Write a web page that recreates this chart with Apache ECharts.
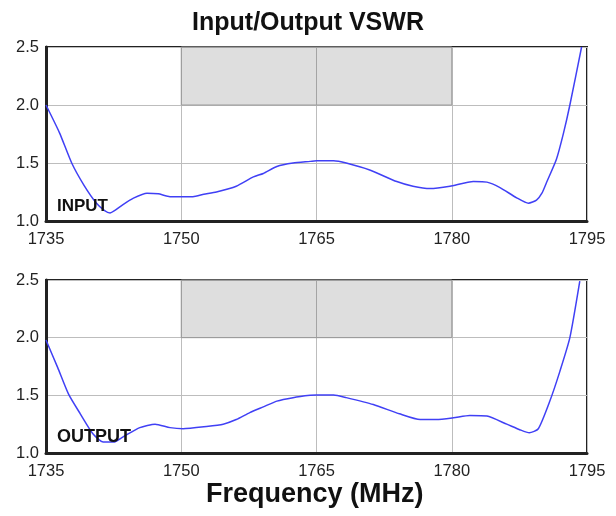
<!DOCTYPE html>
<html>
<head>
<meta charset="utf-8">
<script src="https://cdn.jsdelivr.net/npm/echarts@6/dist/echarts.min.js"></script>
<style>
html,body{margin:0;padding:0;background:#fff;}
#c{width:616px;height:516px;}
</style>
</head>
<body>
<div id="c"></div>
<script>
const titleText = 'Input/Output VSWR';
const xAxisTitle = 'Frequency (MHz)';
const xTicks = [1735, 1750, 1765, 1780, 1795];
const yTicks = [1.0, 1.5, 2.0, 2.5];
const specBand = { fromFreq: 1750, toFreq: 1780, fromVswr: 2.0, toVswr: 2.5 };

const inputFreq = [1735, 1736.5, 1737.85, 1739.2, 1740.6, 1741.5, 1742.1, 1742.6, 1743.5, 1744.7, 1746.2, 1747.45, 1748.75, 1750, 1751.3, 1752.5, 1753.9, 1756.1, 1758, 1759.1, 1760.6, 1762.4, 1764.3, 1765, 1766.9, 1768.3, 1770.9, 1773.9, 1775.7, 1777.6, 1779.8, 1782.4, 1783.9, 1785.3, 1787.2, 1788.5, 1789.4, 1790, 1790.5, 1791.6, 1792.4, 1793.1, 1794.4];
const inputVswr = [2.0, 1.76, 1.50, 1.31, 1.153, 1.09, 1.07, 1.09, 1.14, 1.197, 1.24, 1.234, 1.21, 1.21, 1.21, 1.23, 1.25, 1.30, 1.38, 1.41, 1.47, 1.50, 1.514, 1.52, 1.52, 1.50, 1.44, 1.34, 1.30, 1.28, 1.30, 1.34, 1.335, 1.29, 1.20, 1.153, 1.18, 1.24, 1.33, 1.53, 1.76, 2.0, 2.5];

const outputFreq = [1735, 1736.3, 1737.5, 1738.8, 1740.2, 1741.35, 1742.5, 1743.55, 1745.4, 1747.1, 1748.75, 1750.2, 1752.8, 1754.65, 1756.1, 1757.6, 1759.1, 1760.6, 1762.4, 1764.3, 1765, 1766.9, 1768.3, 1771.3, 1774.2, 1776.5, 1778.3, 1780.2, 1782, 1783.9, 1786.1, 1787.6, 1788.6, 1789.6, 1790.9, 1792, 1793.1, 1794.2];
const outputVswr = [1.98, 1.74, 1.51, 1.34, 1.167, 1.095, 1.095, 1.14, 1.22, 1.25, 1.22, 1.21, 1.23, 1.25, 1.29, 1.35, 1.40, 1.45, 1.48, 1.50, 1.503, 1.503, 1.48, 1.42, 1.34, 1.29, 1.29, 1.305, 1.325, 1.32, 1.25, 1.20, 1.175, 1.21, 1.455, 1.71, 2.0, 2.49];

const panelLabels = ['INPUT', 'OUTPUT'];

const pairs = (xs, ys) => xs.map((x, i) => [x, ys[i]]);
const font = 'Liberation Sans, Arial, Helvetica, sans-serif';

function xAxis(gi) {
  return {
    type: 'value', gridIndex: gi,
    min: xTicks[0], max: xTicks[xTicks.length - 1], interval: xTicks[1] - xTicks[0],
    axisLine: { show: true, onZero: false, lineStyle: { color: '#222', width: 3 } },
    axisTick: { show: false },
    axisLabel: { color: '#222', fontSize: 16.5, fontFamily: font, margin: 10,
      formatter: v => String(v) },
    splitLine: { show: true, lineStyle: { color: '#bdbdbd', width: 1 } }
  };
}
function yAxis(gi) {
  return {
    type: 'value', gridIndex: gi,
    min: yTicks[0], max: yTicks[yTicks.length - 1], interval: yTicks[1] - yTicks[0],
    axisLine: { show: true, onZero: false, lineStyle: { color: '#222', width: 3 } },
    axisTick: { show: false },
    axisLabel: { color: '#222', fontSize: 16.5, fontFamily: font, margin: 7,
      formatter: v => v.toFixed(1) },
    splitLine: { show: true, lineStyle: { color: '#bdbdbd', width: 1 } }
  };
}
function series(gi, data) {
  return {
    type: 'line', xAxisIndex: gi, yAxisIndex: gi,
    data: data, smooth: 0.2, symbol: 'none', clip: true,
    lineStyle: { color: '#4040f5', width: 1.5 },
    markArea: {
      silent: true,
      itemStyle: { color: 'rgba(0,0,0,0.13)', borderColor: '#9a9a9a', borderWidth: 1 },
      data: [[{ coord: [specBand.fromFreq, specBand.fromVswr] }, { coord: [specBand.toFreq, specBand.toVswr] }]]
    }
  };
}

const chart = echarts.init(document.getElementById('c'), null, { renderer: 'canvas' });
chart.setOption({
  animation: false,
  backgroundColor: '#fff',
  title: {
    text: titleText, left: 'center', top: 6,
    textStyle: { fontSize: 25, fontWeight: 'bold', color: '#111', fontFamily: font }
  },
  grid: [
    { left: 46, right: 29, top: 47, height: 174, show: true, borderColor: '#222', borderWidth: 2, backgroundColor: 'transparent' },
    { left: 46, right: 29, top: 280, height: 173, show: true, borderColor: '#222', borderWidth: 2, backgroundColor: 'transparent' }
  ],
  xAxis: [xAxis(0), xAxis(1)],
  yAxis: [yAxis(0), yAxis(1)],
  series: [series(0, pairs(inputFreq, inputVswr)), series(1, pairs(outputFreq, outputVswr))],
  graphic: [
    { type: 'text', left: 57, top: 198, z: 100,
      style: { text: panelLabels[0], font: 'bold 17px ' + font, fill: '#111' } },
    { type: 'text', left: 57, top: 428, z: 100,
      style: { text: panelLabels[1], font: 'bold 18px ' + font, fill: '#111' } },
    { type: 'text', left: 206, top: 481, z: 100,
      style: { text: xAxisTitle, font: 'bold 27px ' + font, fill: '#111' } }
  ]
});
</script>
</body>
</html>
